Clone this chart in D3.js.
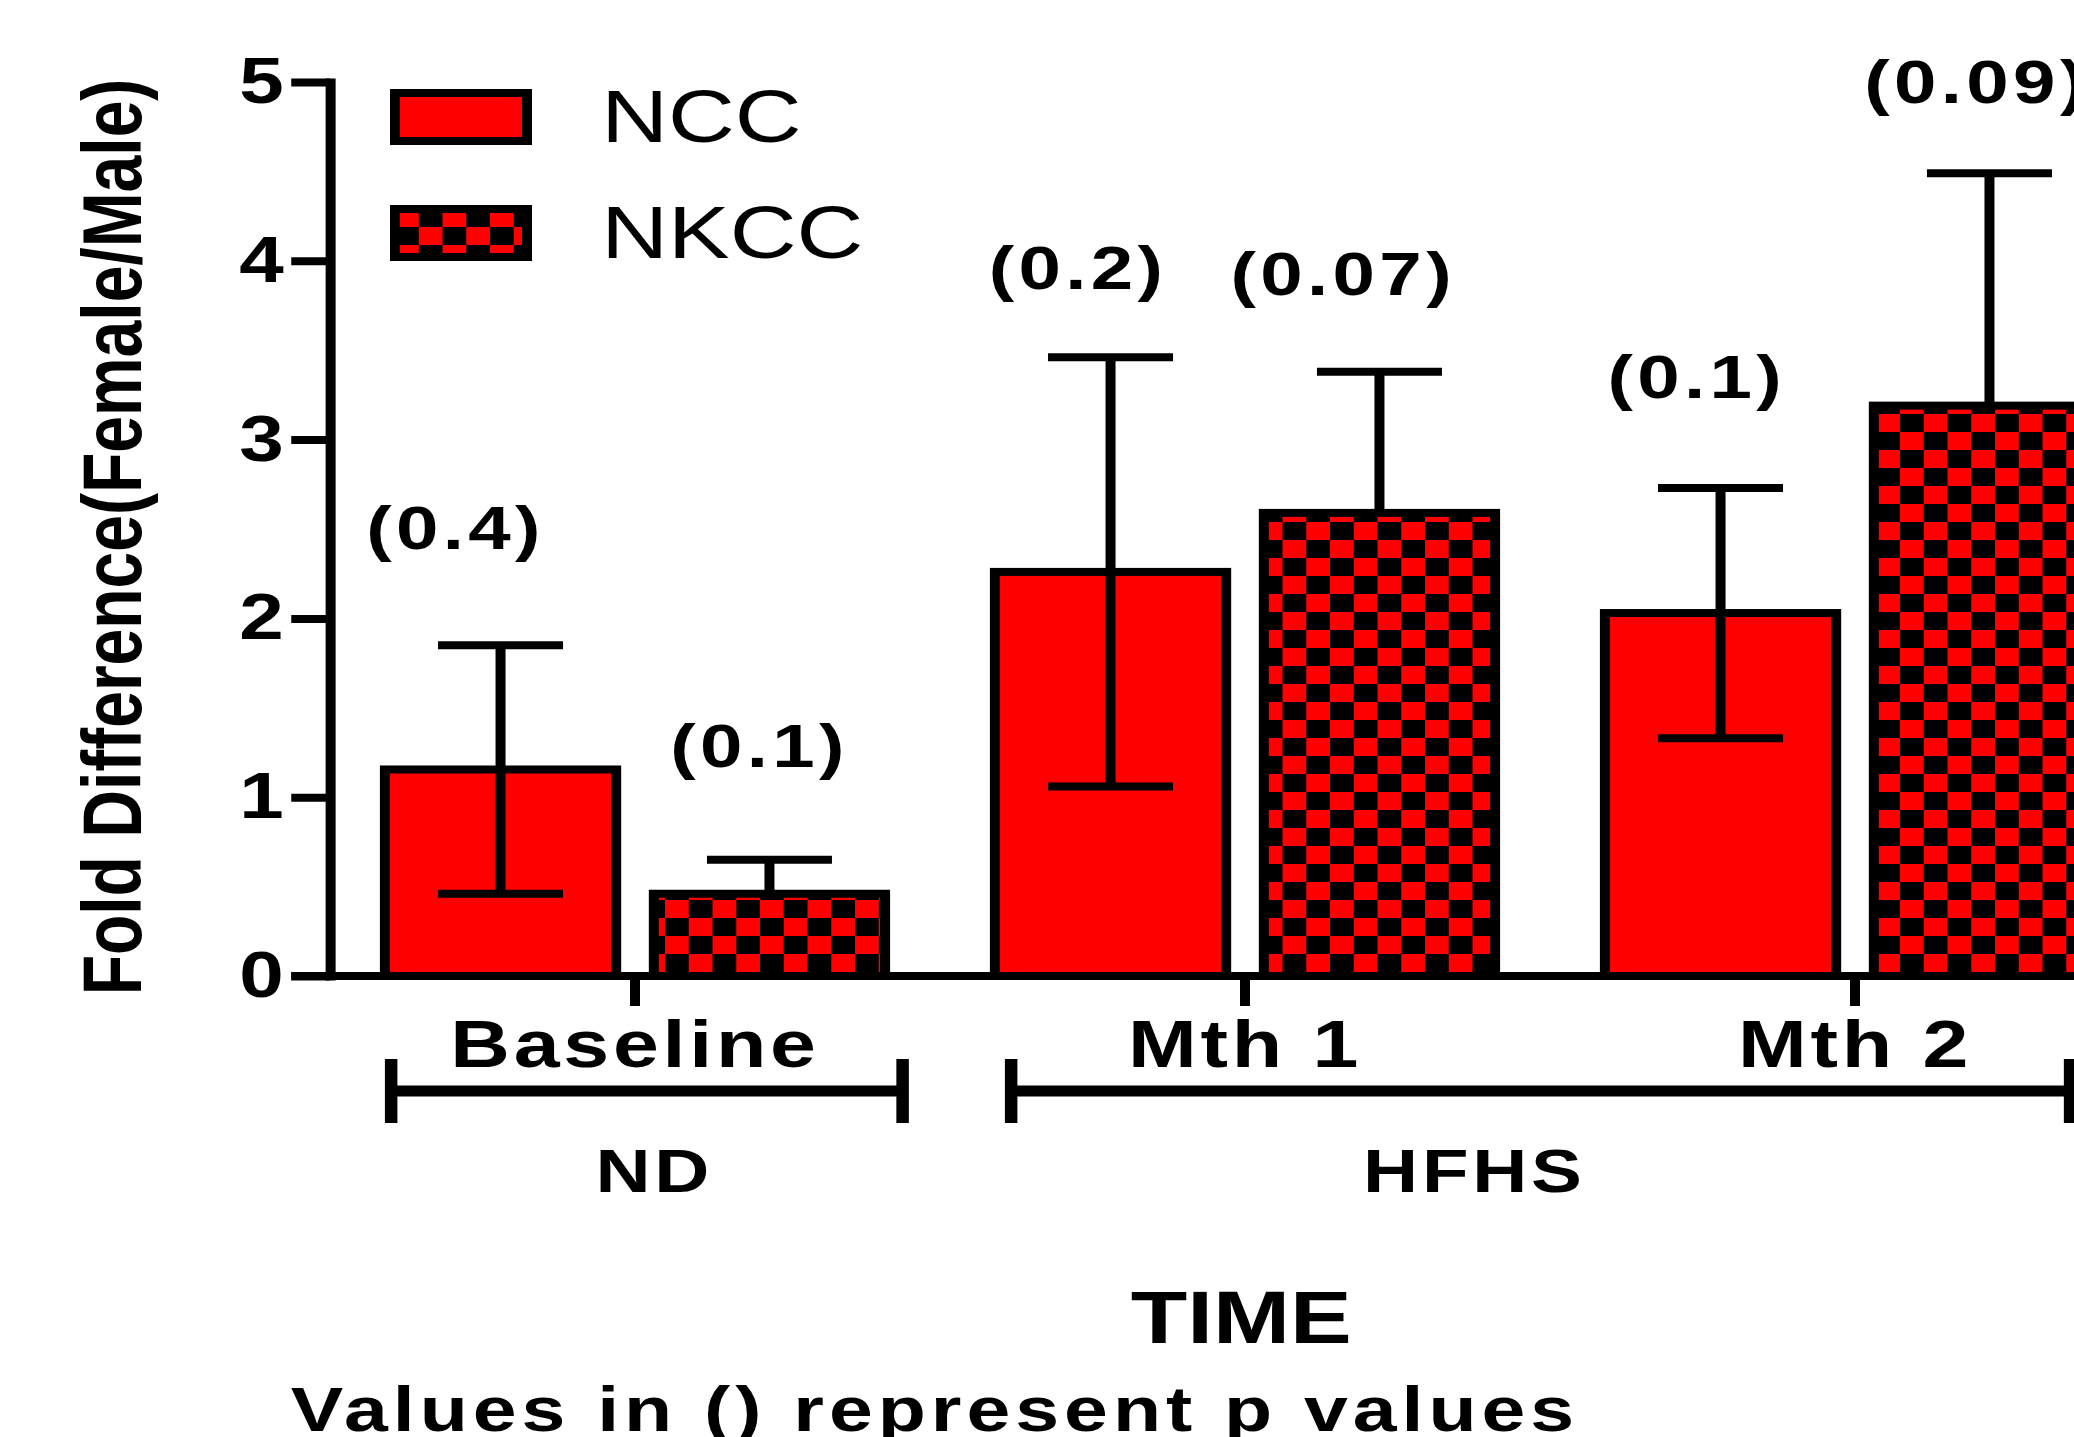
<!DOCTYPE html>
<html>
<head>
<meta charset="utf-8">
<script src="https://cdn.jsdelivr.net/npm/d3@7"></script>
<style>
body { margin: 0; background: #fff; }
svg { display: block; font-family: "Liberation Sans", Arial, sans-serif; }
</style>
</head>
<body>
<div id="chart"></div>
<script>
// data
var timepoints = ["Baseline", "Mth 1", "Mth 2"];
var seriesNames = ["NCC", "NKCC"];
var nccMean = [1.155, 2.26, 2.03];
var nccSem = [0.695, 1.20, 0.70];
var nkccMean = [0.46, 2.59, 3.19];
var nkccSem = [0.19, 0.79, 1.30];
var nccP = ["(0.4)", "(0.2)", "(0.1)"];
var nkccP = ["(0.1)", "(0.07)", "(0.09)"];
var nccPAt = [2.39, 3.84, 3.23];   // height of the p label, in fold units
var nkccPAt = [1.17, 3.81, 4.88];
var diets = ["ND", "HFHS"];
var yTicks = [0, 1, 2, 3, 4, 5];

// small nudges of the p labels off the bar centre
var nccShift = [-36, -26, -19];
var nkccShift = [-8, -29, -10];

var W = 2074, H = 1437;
var sx = 1.25; // the original figure is stretched horizontally

var svg = d3.select("#chart").append("svg")
    .attr("width", W)
    .attr("height", H);

var defs = svg.append("defs");
var pat = defs.append("pattern")
    .attr("id", "checks")
    .attr("patternUnits", "userSpaceOnUse")
    .attr("width", 38)
    .attr("height", 36);
pat.append("rect").attr("width", 38).attr("height", 36).attr("fill", "#ff0000");
pat.append("rect").attr("x", 19).attr("y", 0).attr("width", 19).attr("height", 18).attr("fill", "#000");
pat.append("rect").attr("x", 0).attr("y", 18).attr("width", 19).attr("height", 18).attr("fill", "#000");

var g = svg.append("g").attr("transform", "scale(" + sx + ",1)");

var y = d3.scaleLinear().domain([0, 5]).range([976, 82]);
var x0 = d3.scaleBand().domain(timepoints)
    .range([264, 264 + 3 * 488])
    .paddingInner(0.18)
    .paddingOuter(0.09);
var x1 = d3.scaleBand().domain(seriesNames)
    .range([0, x0.bandwidth()])
    .paddingInner(0.14);

var rows = [];
timepoints.forEach(function(t, i) {
    rows.push({t: t, s: "NCC", mean: nccMean[i], sem: nccSem[i], p: nccP[i], pAt: nccPAt[i], dx: nccShift[i], both: true});
    rows.push({t: t, s: "NKCC", mean: nkccMean[i], sem: nkccSem[i], p: nkccP[i], pAt: nkccPAt[i], dx: nkccShift[i], both: false});
});
function cx(d) { return x0(d.t) + x1(d.s) + x1.bandwidth() / 2; }
function fillOf(s) { return s == "NCC" ? "#ff0000" : "url(#checks)"; }

// bars
g.selectAll(".bar")
    .data(rows)
    .enter()
    .append("rect")
    .attr("class", "bar")
    .attr("x", function(d) { return x0(d.t) + x1(d.s); })
    .attr("y", function(d) { return y(d.mean); })
    .attr("width", x1.bandwidth())
    .attr("height", function(d) { return y(0) - y(d.mean); })
    .attr("fill", function(d) { return fillOf(d.s); })
    .attr("stroke", "#000")
    .attr("stroke-width", 8);

// error bars
var capHalf = 50;
var eb = g.selectAll(".err").data(rows).enter().append("g").attr("class", "err")
    .attr("stroke", "#000").attr("stroke-width", 8);
eb.append("line")
    .attr("x1", cx).attr("x2", cx)
    .attr("y1", function(d) { return y(d.both ? d.mean - d.sem : d.mean); })
    .attr("y2", function(d) { return y(d.mean + d.sem); });
eb.append("line")
    .attr("x1", function(d) { return cx(d) - capHalf; })
    .attr("x2", function(d) { return cx(d) + capHalf; })
    .attr("y1", function(d) { return y(d.mean + d.sem); })
    .attr("y2", function(d) { return y(d.mean + d.sem); });
eb.filter(function(d) { return d.both; }).append("line")
    .attr("x1", function(d) { return cx(d) - capHalf; })
    .attr("x2", function(d) { return cx(d) + capHalf; })
    .attr("y1", function(d) { return y(d.mean - d.sem); })
    .attr("y2", function(d) { return y(d.mean - d.sem); });

// p value labels
g.selectAll(".plab")
    .data(rows)
    .enter()
    .append("text")
    .attr("class", "plab")
    .attr("x", function(d) { return cx(d) + d.dx; })
    .attr("y", function(d) { return y(d.pAt); })
    .attr("text-anchor", "middle")
    .attr("font-size", 61)
    .attr("font-weight", "bold")
    .attr("letter-spacing", 3.5)
    .text(function(d) { return d.p; });

// y axis
var yAxis = d3.axisLeft(y)
    .tickValues(yTicks)
    .tickSize(31)
    .tickSizeOuter(0)
    .tickPadding(6)
    .tickFormat(d3.format("d"));
var ya = g.append("g").attr("transform", "translate(264,0)").call(yAxis);
ya.select(".domain").attr("stroke-width", 8).attr("stroke-linecap", "square");
ya.selectAll(".tick line").attr("stroke-width", 8);
ya.selectAll(".tick text")
    .attr("font-size", 64)
    .attr("font-weight", "bold")
    .attr("font-family", "Liberation Sans, Arial, sans-serif")
    .attr("fill", "#000");

// x axis
g.append("line")
    .attr("x1", 233).attr("x2", 1720)
    .attr("y1", y(0)).attr("y2", y(0))
    .attr("stroke", "#000").attr("stroke-width", 8);
var xAxis = d3.axisBottom(x0).tickSize(30).tickSizeOuter(0).tickPadding(14);
var xa = g.append("g").attr("transform", "translate(0," + y(0) + ")").call(xAxis);
xa.select(".domain").remove();
xa.selectAll(".tick line").attr("stroke-width", 8);
xa.selectAll(".tick text")
    .attr("font-size", 66)
    .attr("font-weight", "bold")
    .attr("letter-spacing", 3)
    .attr("font-family", "Liberation Sans, Arial, sans-serif")
    .attr("fill", "#000");

// diet brackets
var bw = x0.bandwidth();
var brackets = [
    {name: diets[0], a: x0("Baseline") + 5, b: x0("Baseline") + bw + 14, shift: 6},
    {name: diets[1], a: x0("Mth 1") + 13, b: x0("Mth 2") + bw - 28, shift: -53}
];
var br = g.selectAll(".bracket").data(brackets).enter().append("g").attr("class", "bracket");
br.append("line")
    .attr("x1", function(d) { return d.a; }).attr("x2", function(d) { return d.b; })
    .attr("y1", 1091).attr("y2", 1091)
    .attr("stroke", "#000").attr("stroke-width", 11);
br.append("line")
    .attr("x1", function(d) { return d.a; }).attr("x2", function(d) { return d.a; })
    .attr("y1", 1059).attr("y2", 1123)
    .attr("stroke", "#000").attr("stroke-width", 10);
br.append("line")
    .attr("x1", function(d) { return d.b; }).attr("x2", function(d) { return d.b; })
    .attr("y1", 1059).attr("y2", 1123)
    .attr("stroke", "#000").attr("stroke-width", 10);
br.append("text")
    .attr("x", function(d) { return (d.a + d.b) / 2 + d.shift; })
    .attr("y", 1192)
    .attr("text-anchor", "middle")
    .attr("font-size", 61)
    .attr("font-weight", "bold")
    .attr("letter-spacing", 3)
    .text(function(d) { return d.name; });

// titles
g.append("text")
    .attr("transform", "translate(113,537) rotate(-90)")
    .attr("text-anchor", "middle")
    .attr("font-size", 66)
    .attr("font-weight", "bold")
    .text("Fold Difference(Female/Male)");

g.append("text")
    .attr("x", 993).attr("y", 1343)
    .attr("text-anchor", "middle")
    .attr("font-size", 74)
    .attr("font-weight", "bold")
    .text("TIME");

g.append("text")
    .attr("x", 748).attr("y", 1431)
    .attr("text-anchor", "middle")
    .attr("font-size", 63)
    .attr("font-weight", "bold")
    .attr("letter-spacing", 4)
    .text("Values in () represent p values");

// legend
var leg = g.selectAll(".leg").data(seriesNames).enter().append("g").attr("class", "leg")
    .attr("transform", function(d, i) { return "translate(316," + (93 + i * 116) + ")"; });
leg.append("rect")
    .attr("width", 105.6).attr("height", 48)
    .attr("fill", function(d) { return fillOf(d); })
    .attr("stroke", "#000").attr("stroke-width", 8);
leg.append("text")
    .attr("x", 165).attr("y", 49)
    .attr("font-size", 74)
    .text(function(d) { return d; });
</script>
</body>
</html>
